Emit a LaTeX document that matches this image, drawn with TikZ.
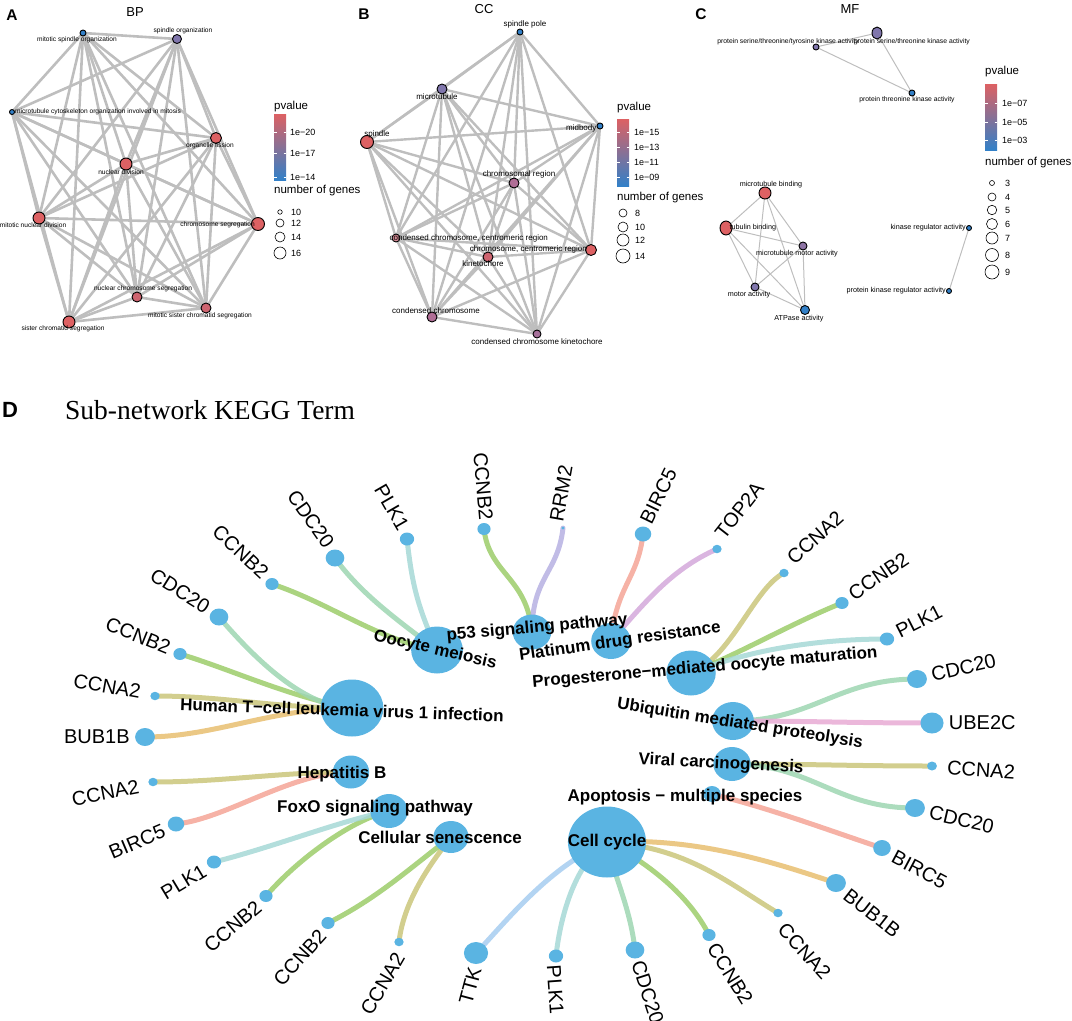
\documentclass[tikz,border=0pt]{standalone}
\usepackage{fontspec}
\setmainfont{Liberation Sans}
\newfontfamily\titlefont{Liberation Serif}
\usetikzlibrary {arrows.meta,
                 calc,
                 positioning,
                 shapes.geometric,
                 backgrounds}
\definecolor{pred}{RGB}{221,97,99}
\definecolor{pred2}{RGB}{206,100,112}
\definecolor{prose}{RGB}{214,140,150}
\definecolor{pmauve}{RGB}{176,110,150}
\definecolor{ppurple}{RGB}{128,118,172}
\definecolor{pblue}{RGB}{50,128,200}
\definecolor{edgegray}{RGB}{190,190,190}
\definecolor{keggblue}{RGB}{90,180,226}
\definecolor{colCCNB}{RGB}{156,204,106}
\definecolor{colCDC}{RGB}{158,214,178}
\definecolor{colPLK}{RGB}{166,216,214}
\definecolor{colCCNA}{RGB}{202,198,122}
\definecolor{colBUB}{RGB}{232,190,112}
\definecolor{colBIRC}{RGB}{244,164,150}
\definecolor{colTOP}{RGB}{212,168,218}
\definecolor{colRRM}{RGB}{182,176,226}
\definecolor{colUBE}{RGB}{232,170,212}
\definecolor{colTTK}{RGB}{166,204,240}
\tikzset{
        go/.style={circle, draw=black, line width=0.9pt, inner sep=0pt,
                   minimum size=#1pt},
        goE/.style={ellipse, draw=black, line width=0.9pt, inner sep=0pt},
        simA/.style={draw=edgegray, line width=2.6pt},
        simB/.style={draw=edgegray, line width=2.4pt},
        simC/.style={draw=edgegray, line width=1pt},
        lblA/.style={font=\fontsize{6.6}{7}\selectfont, inner sep=1pt},
        lblB/.style={font=\fontsize{8}{9}\selectfont, inner sep=1pt},
        lblC/.style={font=\fontsize{6.8}{7}\selectfont, inner sep=1pt},
        lblCC/.style={font=\fontsize{7.2}{8}\selectfont, inner sep=1pt},
        ptag/.style={font=\bfseries\fontsize{15.5}{16}\selectfont},
        ptitle/.style={font=\fontsize{13}{14}\selectfont},
        legtitle/.style={font=\fontsize{11.5}{12}\selectfont, anchor=west,
                         inner sep=0pt},
        legnum/.style={font=\fontsize{9}{10}\selectfont, anchor=west,
                       inner sep=0pt},
        cbar/.style={rectangle, inner sep=0pt, minimum width=12pt,
                     top color=pred, middle color=ppurple!85!pred,
                     bottom color=pblue},
        leg/.style={circle, draw=black, line width=0.6pt, fill=white,
                    inner sep=0pt, minimum size=#1pt},
        kdot/.style={ellipse, fill=keggblue, inner sep=0pt,
                     minimum height=#1pt, minimum width=1.1*#1pt},
        glab/.style={font=\fontsize{20}{22}\selectfont, inner sep=2pt,
                     label distance=3pt},
        far/.style={label distance=8pt},
        tlab/.style={font=\bfseries\fontsize{17}{18}\selectfont, inner sep=0pt},
        lk/.style={line width=5pt, line cap=round, opacity=.85},
 }

\begin{document}
\begin{tikzpicture}[x=1pt, y=-1pt]
    \useasboundingbox (0,0) rectangle (1072,1021);

    % ---------------- A: BP
    \node[ptag] (tagA) at (12,15) {A};
    \node[ptitle] (ttlA) at (135,12) {BP};
    \node[go=6, fill=pblue, label={[lblA, xshift=-6pt, label distance=-1pt]below:mitotic spindle organization}] (a1) at (83,33) {};
    \node[go=9, fill=ppurple, label={[lblA, xshift=6pt, label distance=-1pt]above:spindle organization}] (a2) at (177,39) {};
    \node[go=5, fill=pblue, label={[lblA, label distance=-1pt]right:microtubule cytoskeleton organization involved in mitosis}] (a3) at (12,112) {};
    \node[go=11, fill=pred, label={[lblA, xshift=-6pt, label distance=-2pt]below:organelle fission}] (a4) at (216,138) {};
    \node[go=12, fill=pred, label={[lblA, xshift=-5pt, label distance=-2pt]below:nuclear division}] (a5) at (126,164) {};
    \node[go=12, fill=pred, label={[lblA, xshift=-6pt, label distance=-3pt]below:mitotic nuclear division}] (a6) at (39,218) {};
    \node[go=13, fill=pred, label={[lblA, yshift=-1pt, label distance=-5pt]left:chromosome segregation}] (a7) at (258,224) {};
    \node[go=10, fill=pred2, label={[lblA, xshift=6pt, label distance=-2pt]above:nuclear chromosome segregation}] (a8) at (137,297) {};
    \node[go=10, fill=pred2, label={[lblA, xshift=-6pt, label distance=-2pt]below:mitotic sister chromatid segregation}] (a9) at (206,308) {};
    \node[go=12, fill=pred, label={[lblA, xshift=-6pt, label distance=-4pt]below:sister chromatid segregation}] (a10) at (69,322) {};
    \begin{scope}[on background layer]
      \foreach \i in {1,...,9}{
        \pgfmathtruncatemacro\k{\i+1}
        \foreach \j in {\k,...,10}
          \draw[simA] (a\i.center) -- (a\j.center);
      }
    \end{scope}
    % legend A
    \node[legtitle] (pvA) at (274,107) {pvalue};
    \node[cbar, minimum height=66pt] (barA) at (280,147) {};
    \foreach \y/\t [count=\i] in {132/20, 153/17, 177/14}{
      \draw[white, line width=.6pt] (274,\y) -- +(2.5,0) (283.5,\y) -- +(2.5,0);
      \node[legnum] (tkA\i) at (290,\y) {1e−\t};
    }
    \node[legtitle] (ngA) at (274,191) {number of genes};
    \foreach \d/\y/\t [count=\i] in {4.5/212/10, 8/223/12, 10/237/14, 12/253/16}{
      \node[leg=\d] (szA\i) at (280,\y) {};
      \node[legnum] (szA\i t) at (291,\y) {\t};
    }

    % ---------------- B: CC
    \node[ptag] (tagB) at (364,14) {B};
    \node[ptitle] (ttlB) at (484,9) {CC};
    \node[go=6, fill=pblue, label={[lblB, xshift=5pt, label distance=-1pt]above:spindle pole}] (b1) at (520,32) {};
    \node[go=10, fill=ppurple, label={[lblB, xshift=-5pt, label distance=-2pt]below:microtubule}] (b2) at (442,89) {};
    \node[go=6, fill=pblue, label={[lblB, yshift=-2pt, label distance=-1pt]left:midbody}] (b3) at (600,126) {};
    \node[go=13, fill=pred, label={[lblB, xshift=10pt, label distance=-4pt]above:spindle}] (b4) at (367,142) {};
    \node[go=10, fill=pmauve, label={[lblB, xshift=5pt, label distance=-2pt]above:chromosomal region}] (b5) at (514,183) {};
    \node[go=8, fill=prose, label={[lblB, label distance=-12pt]right:condensed chromosome, centromeric region}] (b6) at (396,238) {};
    \node[go=11, fill=pred, label={[lblB, yshift=1pt, label distance=-3pt]left:chromosome, centromeric region}] (b7) at (591,250) {};
    \node[go=10, fill=pred2, label={[lblB, xshift=-5pt, label distance=-3pt]below:kinetochore}] (b8) at (488,257) {};
    \node[go=10, fill=pmauve, label={[lblB, xshift=4pt, label distance=-3pt]above:condensed chromosome}] (b9) at (432,317) {};
    \node[go=8, fill=pmauve!80!ppurple, label={[lblB, label distance=-1pt]below:condensed chromosome kinetochore}] (b10) at (537,334) {};
    \begin{scope}[on background layer]
      \foreach \i in {1,...,9}{
        \pgfmathtruncatemacro\k{\i+1}
        \foreach \j in {\k,...,10}
          \draw[simB] (b\i.center) -- (b\j.center);
      }
    \end{scope}
    % legend B
    \node[legtitle] (pvB) at (617,108) {pvalue};
    \node[cbar, minimum height=67pt] (barB) at (623,152.5) {};
    \foreach \y/\t [count=\i] in {132/15, 147/13, 162/11, 177/09}{
      \draw[white, line width=.6pt] (617,\y) -- +(2.5,0) (626.5,\y) -- +(2.5,0);
      \node[legnum] (tkB\i) at (634,\y) {1e−\t};
    }
    \node[legtitle] (ngB) at (617,198) {number of genes};
    \foreach \d/\y/\t [count=\i] in {8/213/8, 10/227/10, 12/240/12, 14/256/14}{
      \node[leg=\d] (szB\i) at (623,\y) {};
      \node[legnum] (szB\i t) at (635,\y) {\t};
    }

    % ---------------- C: MF
    \node[ptag] (tagC) at (701,14) {C};
    \node[ptitle] (ttlC) at (850,9) {MF};
    \node[go=6, fill=ppurple, label={[lblC, xshift=-28pt, label distance=-3pt]above:protein serine/threonine/tyrosine kinase activity}] (c1) at (816,47) {};
    \node[goE, minimum width=10pt, minimum height=12pt, fill=ppurple, label={[lblC, xshift=35pt, label distance=-2pt]below:protein serine/threonine kinase activity}] (c2) at (877,33) {};
    \node[go=6, fill=pblue, label={[lblC, xshift=-5pt, label distance=-1pt]below:protein threonine kinase activity}] (c3) at (912,93) {};
    \node[go=12, fill=pred, label={[lblCC, xshift=6pt, label distance=-3pt]above:microtubule binding}] (c4) at (765,193) {};
    \node[goE, minimum width=12pt, minimum height=14pt, fill=pred, label={[lblCC, label distance=-4pt]right:tubulin binding}] (c5) at (726,228) {};
    \node[go=8, fill=ppurple!70!pmauve, label={[lblCC, xshift=-6pt, label distance=-1pt]below:microtubule motor activity}] (c6) at (803,246) {};
    \node[go=8, fill=ppurple, label={[lblCC, xshift=-6pt, label distance=-1pt]below:motor activity}] (c7) at (755,287) {};
    \node[go=9, fill=pblue, label={[lblCC, xshift=-6pt, label distance=-1pt]below:ATPase activity}] (c8) at (805,310) {};
    \node[go=5, fill=pblue, label={[lblCC, label distance=-1pt]left:kinase regulator activity}] (c9) at (969,228) {};
    \node[go=5, fill=pblue, label={[lblCC, label distance=-1pt]left:protein kinase regulator activity}] (c10) at (949,291) {};
    \begin{scope}[on background layer]
      \draw[simC] (c1.center) -- (c2.center) -- (c3.center) -- (c1.center);
      \foreach \i/\j in {4/5, 4/6, 4/7, 4/8, 5/6, 5/7, 5/8, 6/7, 6/8, 7/8, 9/10}
        \draw[simC] (c\i.center) -- (c\j.center);
    \end{scope}
    % legend C
    \node[legtitle] (pvC) at (985,72) {pvalue};
    \node[cbar, minimum height=66pt] (barC) at (991,117) {};
    \foreach \y/\t [count=\i] in {103/07, 122/05, 140/03}{
      \draw[white, line width=.6pt] (985,\y) -- +(2.5,0) (994.5,\y) -- +(2.5,0);
      \node[legnum] (tkC\i) at (1002,\y) {1e−\t};
    }
    \node[legtitle] (ngC) at (985,163) {number of genes};
    \foreach \d/\y/\t [count=\i] in {5/183/3, 8/197/4, 9.5/210/5, 11/224/6, 12/238/7, 13/255/8, 14/272/9}{
      \node[leg=\d] (szC\i) at (992,\y) {};
      \node[legnum] (szC\i t) at (1005,\y) {\t};
    }

    % ---------------- D: KEGG sub-network
    \node[ptag, font=\bfseries\fontsize{22}{24}\selectfont] (tagD) at (10,410) {D};
    \node[font=\titlefont\fontsize{27.5}{30}\selectfont, anchor=west, inner sep=0pt]
         (ttlD) at (65,410) {Sub-network KEGG Term};

    % terms
    \node[kdot=47] (om)   at (437,650) {};
    \node[kdot=35] (p53)  at (532,632) {};
    \node[kdot=36] (pdr)  at (611,641) {};
    \node[kdot=45] (pmo)  at (691,673) {};
    \node[kdot=38] (ump)  at (733,721) {};
    \node[kdot=34] (vc)   at (732,764) {};
    \node[kdot=16] (aps)  at (712,794) {};
    \node[kdot=71] (cyc)  at (607,842) {};
    \node[kdot=57] (htlv) at (352,708) {};
    \node[kdot=33] (hepb) at (351,772) {};
    \node[kdot=34] (foxo) at (389,811) {};
    \node[kdot=32] (csen) at (451,837) {};

    % genes
    \node[kdot=12, label={[glab, rotate=-43, anchor=east]137:CCNB2}] (om1) at (272,584) {};
    \node[kdot=17, label={[glab, rotate=-55, anchor=east]125:CDC20}] (om2) at (335,558) {};
    \node[kdot=13, label={[glab, rotate=-60, anchor=east]120:PLK1}] (om3) at (407,539) {};
    \node[kdot=12, label={[glab, rotate=-85, anchor=east]95:CCNB2}] (p1) at (484,529) {};
    \node[kdot=3, label={[glab, far, rotate=80, anchor=west]80:RRM2}] (p2) at (563,528) {};
    \node[kdot=15, label={[glab, rotate=64, anchor=west]64:BIRC5}] (pd1) at (643,534) {};
    \node[kdot=8.5, label={[glab, far, rotate=52, anchor=west]52:TOP2A}] (pd2) at (717,549) {};
    \node[kdot=8.5, label={[glab, far, rotate=42, anchor=west]42:CCNA2}] (pm1) at (784,573) {};
    \node[kdot=12, label={[glab, rotate=34, anchor=west]34:CCNB2}] (pm2) at (842,603) {};
    \node[kdot=13, label={[glab, rotate=27, anchor=west]27:PLK1}] (pm3) at (887,639) {};
    \node[kdot=18, label={[glab, rotate=13, anchor=west]13:CDC20}] (um1) at (917,679) {};
    \node[kdot=21, label={[glab, anchor=west]0:UBE2C}] (um2) at (932,723) {};
    \node[kdot=9, label={[glab, far, rotate=-4, anchor=west]356:CCNA2}] (vc1) at (932,766) {};
    \node[kdot=18, label={[glab, rotate=-13, anchor=west]347:CDC20}] (vc2) at (915,808) {};
    \node[kdot=16, label={[glab, rotate=-28, anchor=west]332:BIRC5}] (ap1) at (882,848) {};
    \node[kdot=18, label={[glab, rotate=-38, anchor=west]322:BUB1B}] (cy1) at (836,883) {};
    \node[kdot=8.5, label={[glab, far, rotate=-48, anchor=west]312:CCNA2}] (cy2) at (778,913) {};
    \node[kdot=12, label={[glab, rotate=-58, anchor=west]302:CCNB2}] (cy3) at (709,935) {};
    \node[kdot=17, label={[glab, rotate=-72, anchor=west, label distance=1pt]288:CDC20}] (cy4) at (635,950) {};
    \node[kdot=13, label={[glab, rotate=-86, anchor=west]274:PLK1}] (cy5) at (556,956) {};
    \node[kdot=22, label={[glab, rotate=75, anchor=east]255:TTK}] (cy6) at (476,953) {};
    \node[kdot=8.5, label={[glab, far, rotate=60, anchor=east]240:CCNA2}] (cs1) at (399,942) {};
    \node[kdot=12, label={[glab, rotate=48, anchor=east]228:CCNB2}] (cs2) at (328,923) {};
    \node[kdot=12, label={[glab, rotate=40, anchor=east]220:CCNB2}] (fx1) at (266,896) {};
    \node[kdot=13, label={[glab, rotate=31, anchor=east]211:PLK1}] (fx2) at (214,862) {};
    \node[kdot=15, label={[glab, rotate=23, anchor=east]203:BIRC5}] (hb1) at (176,824) {};
    \node[kdot=8.5, label={[glab, far, rotate=11, anchor=east]191:CCNA2}] (hb2) at (153,782) {};
    \node[kdot=18, label={[glab, anchor=east]180:BUB1B}] (ht1) at (145,737) {};
    \node[kdot=8.5, label={[glab, far, rotate=-10, anchor=east]170:CCNA2}] (ht2) at (155,696) {};
    \node[kdot=12, label={[glab, rotate=-22, anchor=east]158:CCNB2}] (ht3) at (180,654) {};
    \node[kdot=17, label={[glab, rotate=-32, anchor=east]148:CDC20}] (ht4) at (219,617) {};

    % term labels
    \node[tlab, rotate=-13] (omL)   at ($(om)+(-2,0)$)    {Oocyte meiosis};
    \node[tlab, rotate=5]   (p53L)  at ($(p53)+(5,-4)$)   {p53 signaling pathway};
    \node[tlab, rotate=8]   (pdrL)  at ($(pdr)+(9,1)$)    {Platinum drug resistance};
    \node[tlab, rotate=5]   (pmoL)  at ($(pmo)+(14,-5)$)  {Progesterone−mediated oocyte maturation};
    \node[tlab, rotate=-9]  (umpL)  at ($(ump)+(7,3)$)    {Ubiquitin mediated proteolysis};
    \node[tlab, rotate=-3]  (vcL)   at ($(vc)+(-11,0)$)   {Viral carcinogenesis};
    \node[tlab]             (apsL)  at ($(aps)+(-27,3)$)  {Apoptosis − multiple species};
    \node[tlab]             (cycL)  at (cyc)              {Cell cycle};
    \node[tlab, rotate=-2]  (htlvL) at ($(htlv)+(-10,2)$) {Human T−cell leukemia virus 1 infection};
    \node[tlab]             (hepbL) at ($(hepb)+(-9,2)$)  {Hepatitis B};
    \node[tlab]             (foxoL) at ($(foxo)+(-14,-3)$) {FoxO signaling pathway};
    \node[tlab]             (csenL) at ($(csen)+(-11,0)$) {Cellular senescence};

    \begin{scope}[on background layer]
    \draw[lk, colCCNB] (om.center) .. controls +(-60,-10) and +(60,20) .. (om1.center);
    \draw[lk, colCDC]  (om.center) .. controls +(-40,-30) and +(25,35) .. (om2.center);
    \draw[lk, colPLK]  (om.center) .. controls +(-20,-45) and +(5,45) .. (om3.center);
    \draw[lk, colCCNB] (p53.center) .. controls +(-5,-55) and +(5,45) .. (p1.center);
    \draw[lk, colRRM]  (p53.center) .. controls +(0,-55) and +(-5,45) .. (p2.center);
    \draw[lk, colBIRC] (pdr.center) .. controls +(5,-55) and +(-5,45) .. (pd1.center);
    \draw[lk, colTOP]  (pdr.center) .. controls +(35,-40) and +(-45,20) .. (pd2.center);
    \draw[lk, colCCNA] (pmo.center) .. controls +(40,-15) and +(-30,15) .. (pm1.center);
    \draw[lk, colCCNB] (pmo.center) .. controls +(50,-20) and +(-50,20) .. (pm2.center);
    \draw[lk, colPLK]  (pmo.center) .. controls +(50,-20) and +(-80,0) .. (pm3.center);
    \draw[lk, colCDC]  (ump.center) .. controls +(80,0) and +(-80,0) .. (um1.center);
    \draw[lk, colUBE]  (ump.center) .. controls +(80,0) and +(-80,0) .. (um2.center);
    \draw[lk, colCCNA] (vc.center) .. controls +(80,0) and +(-80,0) .. (vc1.center);
    \draw[lk, colCDC]  (vc.center) .. controls +(80,0) and +(-80,0) .. (vc2.center);
    \draw[lk, colBIRC] (aps.center) .. controls +(60,15) and +(-60,-20) .. (ap1.center);
    \draw[lk, colBUB]  (cyc.center) .. controls +(90,-5) and +(-60,-20) .. (cy1.center);
    \draw[lk, colCCNA] (cyc.center) .. controls +(80,5) and +(-50,-30) .. (cy2.center);
    \draw[lk, colCCNB] (cyc.center) .. controls +(40,20) and +(-20,-40) .. (cy3.center);
    \draw[lk, colCDC]  (cyc.center) .. controls +(5,30) and +(-5,-45) .. (cy4.center);
    \draw[lk, colPLK]  (cyc.center) .. controls +(-30,20) and +(5,-45) .. (cy5.center);
    \draw[lk, colTTK]  (cyc.center) .. controls +(-60,25) and +(25,-25) .. (cy6.center);
    \draw[lk, colCCNA] (csen.center) .. controls +(-15,20) and +(5,-45) .. (cs1.center);
    \draw[lk, colCCNB] (csen.center) .. controls +(-40,30) and +(50,-25) .. (cs2.center);
    \draw[lk, colCCNB] (foxo.center) .. controls +(-40,10) and +(30,-35) .. (fx1.center);
    \draw[lk, colPLK]  (foxo.center) .. controls +(-50,10) and +(60,-15) .. (fx2.center);
    \draw[lk, colBIRC] (hepb.center) .. controls +(-60,0) and +(50,-5) .. (hb1.center);
    \draw[lk, colCCNA] (hepb.center) .. controls +(-70,0) and +(70,0) .. (hb2.center);
    \draw[lk, colBUB]  (htlv.center) .. controls +(-80,0) and +(70,0) .. (ht1.center);
    \draw[lk, colCCNA] (htlv.center) .. controls +(-80,0) and +(70,0) .. (ht2.center);
    \draw[lk, colCCNB] (htlv.center) .. controls +(-60,-10) and +(50,15) .. (ht3.center);
    \draw[lk, colCDC]  (htlv.center) .. controls +(-50,0) and +(30,35) .. (ht4.center);
    \end{scope}

\end{tikzpicture}
\end{document}
